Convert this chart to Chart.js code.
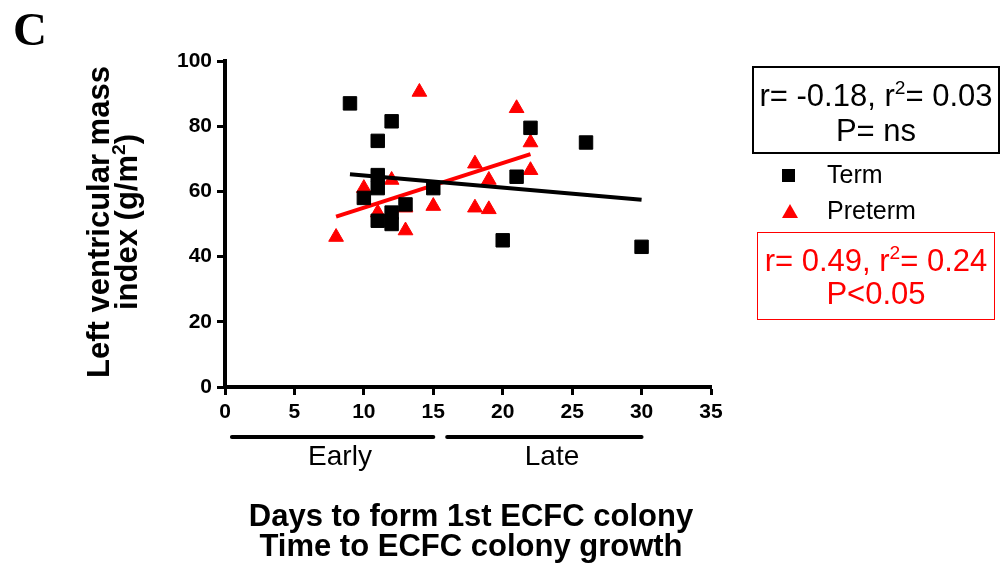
<!DOCTYPE html>
<html>
<head>
<meta charset="utf-8">
<script src="https://cdn.jsdelivr.net/npm/chart.js@4.4.1/dist/chart.umd.min.js"></script>
<style>
  body { margin: 0; background: #fff; }
  #wrap { position: relative; width: 1003px; height: 572px; overflow: hidden;
          font-family: "Liberation Sans", Arial, sans-serif; color: #000; }
  #grafico { position: absolute; left: 0; top: 0; }
  .abs { position: absolute; white-space: nowrap; }
  sup { font-size: 62%; vertical-align: 0; position: relative; top: -0.62em; line-height: 0; }
  .caixa { position: absolute; box-sizing: border-box; text-align: center; }
</style>
</head>
<body>
<div id="wrap">
  <canvas id="grafico" width="1003" height="572"></canvas>

  <!-- letra do painel -->
  <div class="abs" style="left:13px; top:6px; font-family:'Liberation Serif','Times New Roman',serif; font-weight:bold; font-size:47px; line-height:47px;">C</div>

  <!-- titulo do eixo y (duas linhas, girado) -->
  <div class="abs" style="left:-87px; top:194px; width:400px; height:56px; text-align:center; font-weight:bold; font-size:31px; line-height:28px; transform:rotate(-90deg);">
    Left ventricular mass<br>index (g/m<sup>2</sup>)
  </div>

  <!-- rotulos dos grupos -->
  <div class="abs" style="left:240px; top:442px; width:200px; text-align:center; font-size:28px; line-height:28px;">Early</div>
  <div class="abs" style="left:452px; top:442px; width:200px; text-align:center; font-size:28px; line-height:28px;">Late</div>

  <!-- titulo do eixo x -->
  <div class="abs" style="left:171px; top:501px; width:600px; text-align:center; font-weight:bold; font-size:31px; line-height:30px;">
    Days to form 1st ECFC colony<br>Time to ECFC colony growth
  </div>

  <!-- estatisticas Term -->
  <div class="caixa" style="left:752px; top:66px; width:248px; height:88px; border:2px solid #000; padding-top:10px; font-size:31px; line-height:35px;">
    r= -0.18, r<sup>2</sup>= 0.03<br>P= ns
  </div>

  <!-- legenda -->
  <div class="abs" style="left:782px; top:169px; width:13px; height:13px; background:#000;"></div>
  <div class="abs" style="left:827px; top:162px; font-size:25px; line-height:25px;">Term</div>
  <svg class="abs" style="left:782px; top:204px;" width="16" height="14"><polygon points="8,0 16,14 0,14" fill="#ff0000"/></svg>
  <div class="abs" style="left:827px; top:198px; font-size:25px; line-height:25px;">Preterm</div>

  <!-- estatisticas Preterm -->
  <div class="caixa" style="left:757px; top:232px; width:238px; height:88px; border:1.5px solid #ff0000; color:#ff0000; padding-top:11px; font-size:31px; line-height:33px;">
    r= 0.49, r<sup>2</sup>= 0.24<br>P&lt;0.05
  </div>
</div>

<script>
// Dias até a 1a colônia ECFC e índice de massa do VE
const termDias = [9, 10, 11, 11, 11, 11, 12, 12, 12, 13, 15, 20, 21, 22, 26, 30];
const termMassa = [87, 58, 75.5, 65, 61, 51, 81.5, 53.5, 50, 56, 61, 45, 64.5, 79.5, 75, 43];

const pretermDias = [8, 10, 11, 12, 13, 13, 14, 15, 18, 18, 19, 19, 21, 22, 22];
const pretermMassa = [46, 61, 53.5, 63.5, 55, 48, 90.5, 55.5, 68.5, 55, 63.5, 54.5, 85.5, 75, 66.5];

const ticksX = [0, 5, 10, 15, 20, 25, 30, 35];
const ticksY = [0, 20, 40, 60, 80, 100];

// grupos de tempo abaixo do eixo x
const grupos = ['Early', 'Late'];
const gruposFaixa = [[0.5, 15], [16, 30]];

function pontos(xs, ys) {
    return xs.map((x, i) => ({ x: x, y: ys[i] }));
}

// reta de regressão linear (mínimos quadrados) entre o menor e o maior x
function retaRegressao(xs, ys) {
    const n = xs.length;
    const mx = xs.reduce((a, b) => a + b, 0) / n;
    const my = ys.reduce((a, b) => a + b, 0) / n;
    let sxy = 0, sxx = 0;
    for (let i = 0; i < n; i++) {
        sxy += (xs[i] - mx) * (ys[i] - my);
        sxx += (xs[i] - mx) * (xs[i] - mx);
    }
    const incl = sxy / sxx;
    const b = my - incl * mx;
    const x0 = Math.min(...xs), x1 = Math.max(...xs);
    return [{ x: x0, y: b + incl * x0 }, { x: x1, y: b + incl * x1 }];
}

// barras Early / Late desenhadas pela escala x
const barrasGrupos = {
    id: 'barrasGrupos',
    afterDraw(chart) {
        const ctx = chart.ctx;
        const sx = chart.scales.x;
        ctx.save();
        ctx.strokeStyle = '#000';
        ctx.lineWidth = 4;
        ctx.lineCap = 'round';
        gruposFaixa.forEach(f => {
            ctx.beginPath();
            ctx.moveTo(sx.getPixelForValue(f[0]), 437);
            ctx.lineTo(sx.getPixelForValue(f[1]), 437);
            ctx.stroke();
        });
        ctx.restore();
    }
};

Chart.defaults.font.family = '"Liberation Sans", Arial, sans-serif';
Chart.defaults.color = '#000';

const ctx = document.getElementById('grafico').getContext('2d');
new Chart(ctx, {
    type: 'scatter',
    data: {
        datasets: [
            {
                label: 'Term',
                data: pontos(termDias, termMassa),
                pointStyle: 'rect',
                pointRadius: 9.5,
                backgroundColor: '#000',
                borderColor: '#000',
                borderWidth: 1
            },
            {
                label: 'Term fit',
                type: 'line',
                data: retaRegressao(termDias, termMassa),
                borderColor: '#000',
                borderWidth: 4,
                pointRadius: 0,
                fill: false
            },
            {
                label: 'Preterm',
                data: pontos(pretermDias, pretermMassa),
                pointStyle: 'triangle',
                pointRadius: 8.5,
                backgroundColor: '#ff0000',
                borderColor: '#ff0000',
                borderWidth: 1
            },
            {
                label: 'Preterm fit',
                type: 'line',
                data: retaRegressao(pretermDias, pretermMassa),
                borderColor: '#ff0000',
                borderWidth: 4,
                pointRadius: 0,
                fill: false
            }
        ]
    },
    options: {
        responsive: false,
        devicePixelRatio: 1,
        animation: false,
        events: [],
        layout: { padding: { left: 0, top: 61, right: 292, bottom: 0 } },
        plugins: { legend: { display: false }, tooltip: { enabled: false } },
        scales: {
            x: {
                type: 'linear',
                min: 0,
                max: 35,
                afterFit(s) { s.height = 185; },
                afterBuildTicks(s) { s.ticks = ticksX.map(v => ({ value: v })); },
                grid: { drawOnChartArea: false, drawTicks: true, tickLength: 8, tickWidth: 3, tickColor: '#000' },
                border: { display: true, width: 4, color: '#000' },
                ticks: { padding: 5, font: { size: 21, weight: 'bold' }, color: '#000' }
            },
            y: {
                type: 'linear',
                min: 0,
                max: 100,
                afterFit(s) { s.width = 225; },
                afterBuildTicks(s) { s.ticks = ticksY.map(v => ({ value: v })); },
                grid: { drawOnChartArea: false, drawTicks: true, tickLength: 8, tickWidth: 3, tickColor: '#000' },
                border: { display: true, width: 4, color: '#000' },
                ticks: { padding: 5, font: { size: 21, weight: 'bold' }, color: '#000' }
            }
        }
    },
    plugins: [barrasGrupos]
});
</script>
</body>
</html>
